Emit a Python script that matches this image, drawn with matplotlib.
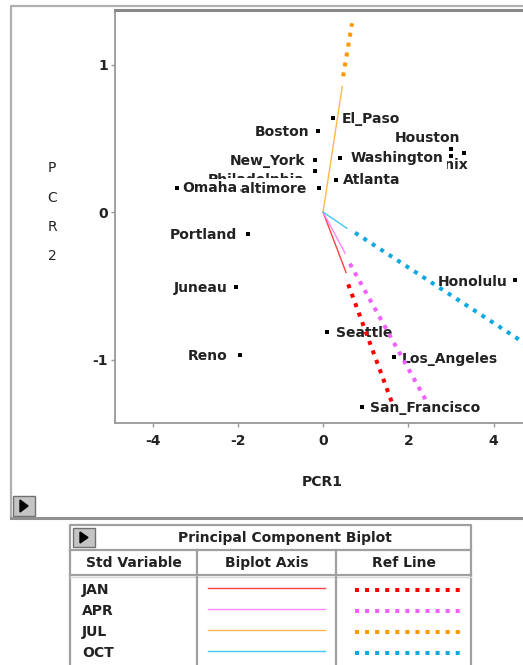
import matplotlib
matplotlib.use('Agg')
import matplotlib.pyplot as plt
from matplotlib.patches import Rectangle, Polygon

# ---------------- data ----------------
cities = ['El_Paso', 'Boston', 'Houston', 'Phoenix', 'New_York', 'Philadelphia',
          'Washington', 'Atlanta', 'Baltimore', 'Omaha', 'Portland', 'Juneau',
          'Reno', 'Seattle', 'Los_Angeles', 'San_Francisco', 'Honolulu']
pcr1 = [0.23, -0.12, 3.00, 3.31, -0.19, -0.19, 0.40, 0.31, -0.09, -3.43,
        -1.76, -2.04, -1.95, 0.09, 1.67, 0.92, 4.51]
pcr2 = [0.64, 0.55, 0.43, 0.40, 0.35, 0.28, 0.37, 0.22, 0.16, 0.16,
        -0.15, -0.51, -0.97, -0.81, -0.98, -1.32, -0.46]
extra_x = [3.00]
extra_y = [0.38]

variables = ['JAN', 'APR', 'JUL', 'OCT']
axis_end_x = [0.54, 0.52, 0.45, 0.56]
axis_end_y = [-0.41, -0.28, 0.85, -0.11]
ref_start_x = [0.59, 0.63, 0.47, 0.75]
ref_start_y = [-0.49, -0.35, 0.92, -0.14]
ref_end_x = [1.64, 2.44, 0.68, 5.0]
ref_end_y = [-1.31, -1.29, 1.28, -0.94]
axis_colors = ['#ff4040', '#ff88ff', '#ffb84d', '#40c8f0']
ref_colors = ['#ff0000', '#f060ff', '#ff9900', '#10a8e0']

xticks = [-4, -2, 0, 2, 4]
yticks = [-1, 0, 1]
title = 'Principal Component Biplot'
headers = ['Std Variable', 'Biplot Axis', 'Ref Line']

# label placement: (dx, dy) in pixels, horizontal alignment, mask pad (None = no mask)
label_pos = {
    'El_Paso': (9, -1, 'left', 0.15),
    'Boston': (-9, -1, 'right', 0.12),
    'Houston': (9, 11, 'right', 0.12),
    'Phoenix': (4, -12, 'right', None),
    'New_York': (-10, -1, 'right', 0.12),
    'Philadelphia': (-10, -9, 'right', None),
    'Washington': (10, 0, 'left', 0.32),
    'Atlanta': (7, 0, 'left', 0.12),
    'Baltimore': (-12, -1, 'right', 0.35),
    'Omaha': (5, 0, 'left', 0.2),
    'Portland': (-11, -1, 'right', None),
    'Juneau': (-9, -1, 'right', None),
    'Reno': (-12, -1, 'right', None),
    'Seattle': (9, -1, 'left', None),
    'Los_Angeles': (8, -2, 'left', None),
    'San_Francisco': (8, -1, 'left', None),
    'Honolulu': (-8, -2, 'right', None),
}

W, H = 523, 665
FONT = 'DejaVu Sans'
FS = 10
TXT = '#222222'
fig = plt.figure(figsize=(W / 100, H / 100), dpi=100)
fig.patch.set_facecolor('white')

# background overlay in pixel coordinates
bg = fig.add_axes([0, 0, 1, 1], zorder=0)
bg.set_xlim(0, W)
bg.set_ylim(H, 0)
bg.axis('off')
bg.patch.set_alpha(0)

# outer frame of plot
bg.plot([11, 11, 540], [518, 6, 6], color='#b0b0b0', lw=1.6, solid_capstyle='butt')
bg.plot([11, 540], [518, 518], color='#909090', lw=2.2)
bg.add_patch(Rectangle((13, 496), 22, 20, facecolor='#c4c4c4', edgecolor='#707070', lw=1))
bg.add_patch(Polygon([[20, 500], [20, 512], [28, 506]], closed=True, color='black'))

# ---------------- main axes ----------------
L, R, T, B = 115, 523, 10, 423
ax = fig.add_axes([L / W, 1 - B / H, (R - L) / W, (B - T) / H], zorder=1)
ax.set_facecolor('white')
ax.set_xlim(-4.88, 4.69)
ax.set_ylim(-1.43, 1.37)
for s in ['left', 'bottom']:
    ax.spines[s].set_color('#999999')
    ax.spines[s].set_linewidth(1.3)
ax.spines['top'].set_color('#888888')
ax.spines['top'].set_linewidth(2.2)
ax.spines['right'].set_visible(False)
ax.set_xticks(xticks)
ax.set_yticks(yticks)
ax.set_xticklabels([str(t) for t in xticks])
ax.set_yticklabels([str(t) for t in yticks])
ax.tick_params(direction='out', length=3, width=1, color='#999999',
               labelsize=FS, labelcolor=TXT)
ax.tick_params(axis='x', pad=5)
ax.tick_params(axis='y', pad=2)
for lab in ax.get_xticklabels() + ax.get_yticklabels():
    lab.set_fontweight('bold')
    lab.set_family(FONT)

# city points
ax.scatter(pcr1, pcr2, marker='s', s=7, color='black', zorder=6, linewidths=0)
ax.scatter(extra_x, extra_y, marker='s', s=7, color='black', zorder=6, linewidths=0)

for name, x, y in zip(cities, pcr1, pcr2):
    dx, dy, ha, pad = label_pos[name]
    kw = {}
    if pad is not None:
        kw['bbox'] = dict(boxstyle='square,pad=%.2f' % pad, facecolor='white', edgecolor='none')
    ax.annotate(name, (x, y), xytext=(dx, dy), textcoords='offset pixels',
                ha=ha, va='center', fontsize=FS, fontweight='bold', family=FONT,
                color=TXT, zorder=4 if pad is not None else 3, **kw)

# biplot axes and ref lines
for i in range(len(variables)):
    ax.plot([0, axis_end_x[i]], [0, axis_end_y[i]], color=axis_colors[i], lw=1.0, zorder=5)
    ax.plot([ref_start_x[i], ref_end_x[i]], [ref_start_y[i], ref_end_y[i]],
            color=ref_colors[i], lw=2.9, linestyle=(0, (1, 1.5)),
            dash_capstyle='butt', zorder=5)

# axis titles
fig.text(322 / W, 1 - 482 / H, 'PCR1', ha='center', va='center', fontsize=FS,
         fontweight='bold', family=FONT, color=TXT)
for ch, py in zip(list('PCR2'), [168, 198, 227, 256]):
    fig.text(52 / W, 1 - py / H, ch, ha='center', va='center', fontsize=FS,
             family=FONT, color=TXT)

# ---------------- table ----------------
tl, tr, tt = 70, 471, 525
gray = '#a0a0a0'
bg.plot([tl, tl, tr, tr], [H + 5, tt, tt, H + 5], color=gray, lw=1.6)
bg.plot([tl, tr], [550, 550], color=gray, lw=1.6)
bg.plot([tl, tr], [575, 575], color=gray, lw=1.6)
bg.plot([tl, tr], [577, 577], color='#d8d8d8', lw=1.0)
for cx in [197, 336]:
    bg.plot([cx, cx], [550, H + 5], color=gray, lw=1.6)
bg.add_patch(Rectangle((73, 528), 22, 19, facecolor='#c4c4c4', edgecolor='#707070', lw=1))
bg.add_patch(Polygon([[80, 532], [80, 543], [88, 537.5]], closed=True, color='black'))
bg.text(285, 538, title, ha='center', va='center', fontsize=FS, fontweight='bold',
        family=FONT, color=TXT)
for htxt, hx in zip(headers, [134, 267, 404]):
    bg.text(hx, 563, htxt, ha='center', va='center', fontsize=FS, fontweight='bold',
            family=FONT, color=TXT)
row_y = [590, 611, 632, 653]
for i, v in enumerate(variables):
    ry = row_y[i]
    bg.text(82, ry, v, ha='left', va='center', fontsize=FS, fontweight='bold',
            family=FONT, color=TXT)
    bg.plot([208, 325], [ry - 2, ry - 2], color=axis_colors[i], lw=1.0)
    bg.plot([355, 460], [ry, ry], color=ref_colors[i], lw=2.9,
            linestyle=(0, (1, 1.5)), dash_capstyle='butt')

fig.savefig('out.png', dpi=100, facecolor='white')
